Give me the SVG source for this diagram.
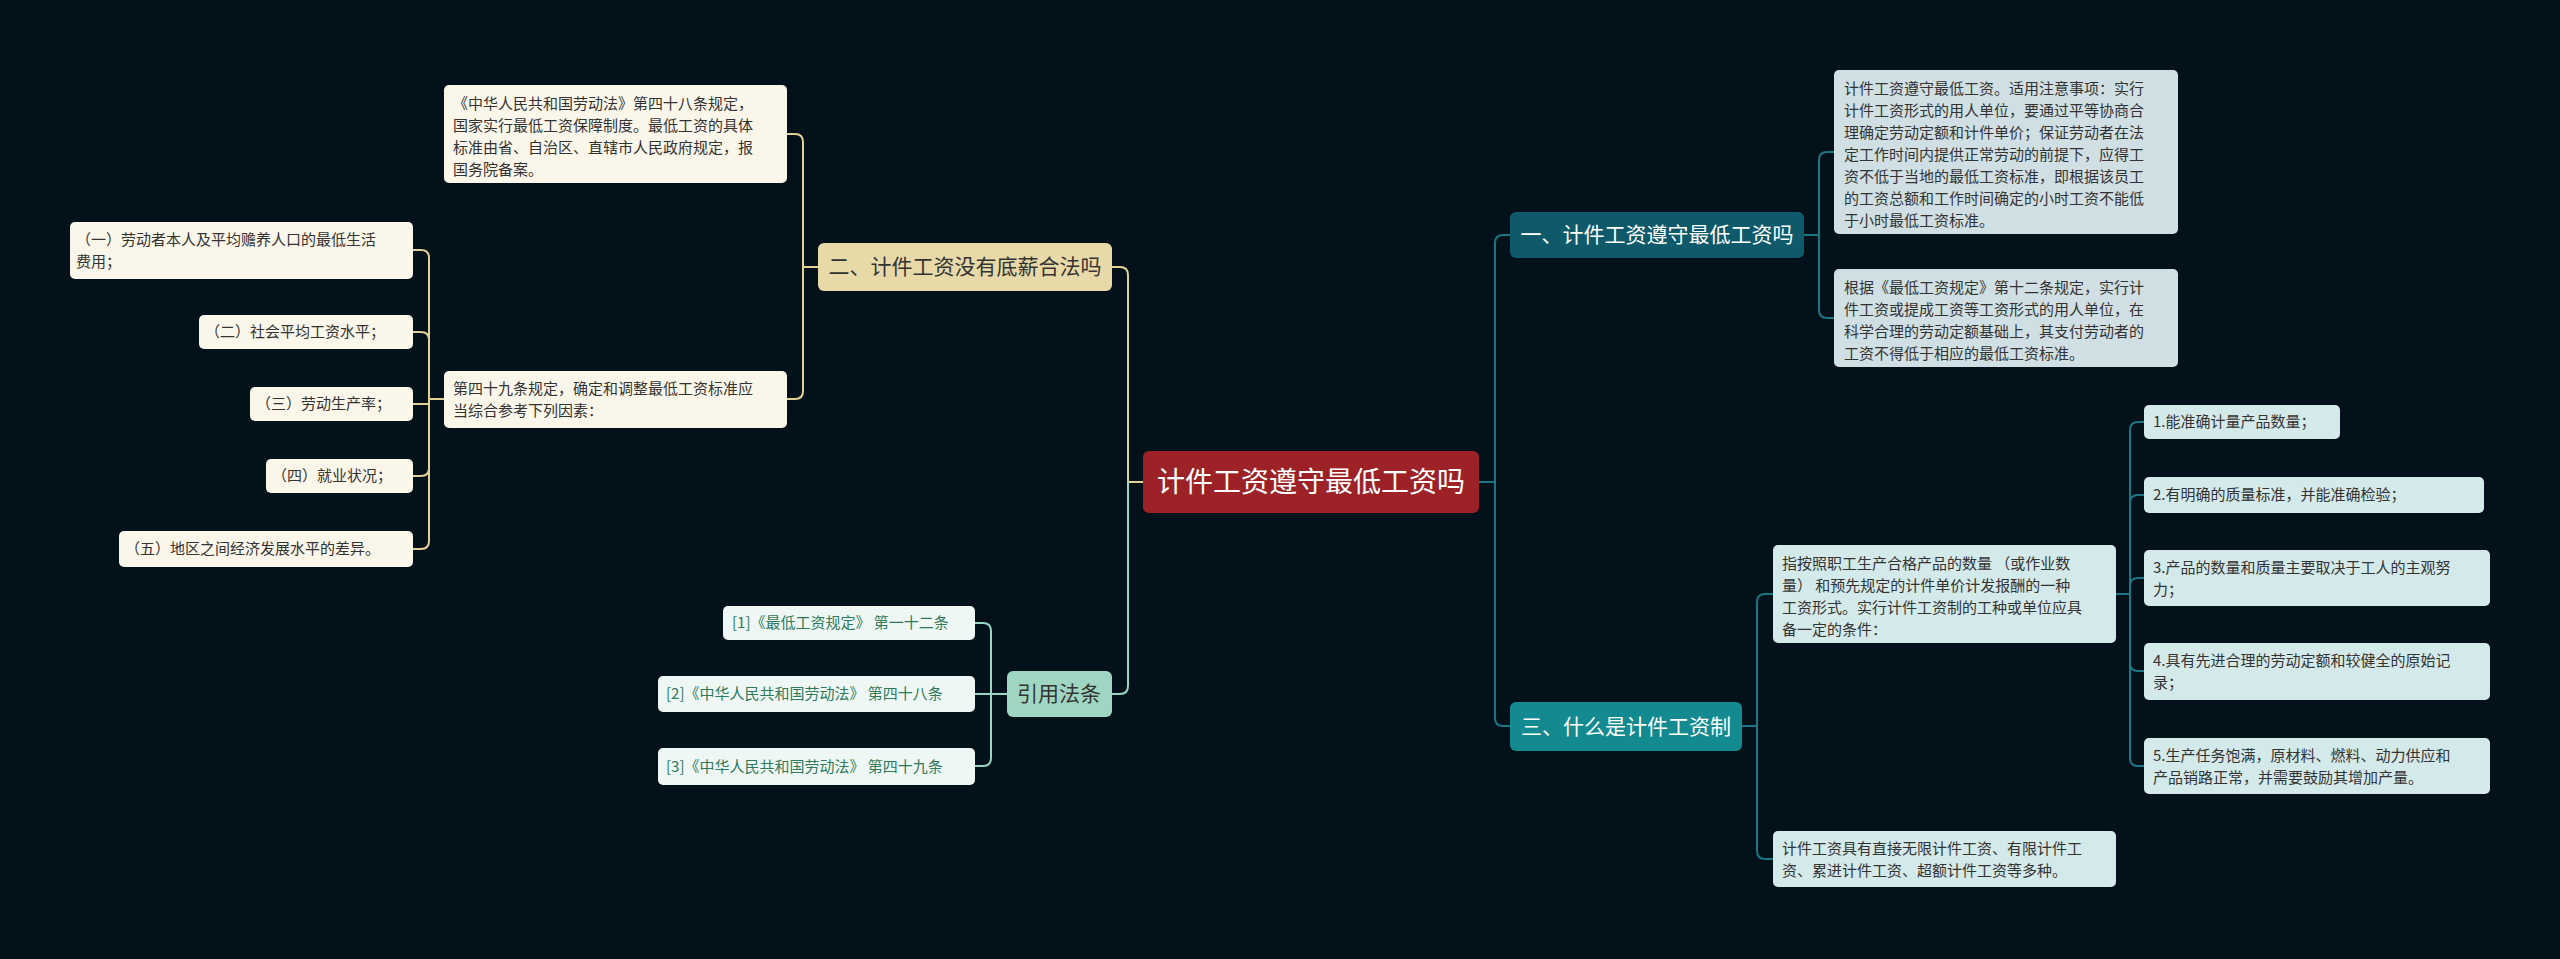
<svg xmlns="http://www.w3.org/2000/svg" width="2560" height="959" viewBox="0 0 2560 959">
<style>
text{font-family:"Noto Sans CJK SC","Noto Sans",sans-serif;}
.t{font-size:15px;fill:#333;}
.g{font-size:15px;fill:#2f7a5c;}
.h{font-size:21px;text-anchor:middle;}
.c{fill:none;stroke-width:2;}
.r{stroke:#1b7683;}
.y{stroke:#e2d195;}
.m{stroke:#96d6c2;}
</style>
<rect width="2560" height="959" fill="#03111a"/>
<g id="connectors">
<path class="c r" d="M1479 482 H1495 V243 Q1495 235 1503 235 H1510"/>
<path class="c r" d="M1495 482 V718 Q1495 726 1503 726 H1510"/>
<path class="c r" d="M1804 235 H1819 V160 Q1819 152 1827 152 H1834"/>
<path class="c r" d="M1819 235 V310 Q1819 318 1827 318 H1834"/>
<path class="c r" d="M1742 726 H1757 V602 Q1757 594 1765 594 H1773"/>
<path class="c r" d="M1757 726 V851 Q1757 859 1765 859 H1773"/>
<path class="c r" d="M2116 594 H2130 V430 Q2130 422 2138 422 H2144"/>
<path class="c r" d="M2130 594 V503 Q2130 495 2138 495 H2144"/>
<path class="c r" d="M2130 594 V586 Q2130 578 2138 578 H2144"/>
<path class="c r" d="M2130 594 V663 Q2130 671 2138 671 H2144"/>
<path class="c r" d="M2130 594 V758 Q2130 766 2138 766 H2144"/>
<path class="c y" d="M1143 482 H1128 V275 Q1128 267 1120 267 H1112"/>
<path class="c m" d="M1128 482 V686 Q1128 694 1120 694 H1112"/>
<path class="c y" d="M818 267 H803 V142 Q803 134 795 134 H787"/>
<path class="c y" d="M803 267 V391 Q803 399 795 399 H787"/>
<path class="c y" d="M444 399 H429 V258 Q429 250 421 250 H413"/>
<path class="c y" d="M429 399 V340 Q429 332 421 332 H413"/>
<path class="c y" d="M429 399 V404 H413"/>
<path class="c y" d="M429 399 V468 Q429 476 421 476 H413"/>
<path class="c y" d="M429 399 V541 Q429 549 421 549 H413"/>
<path class="c m" d="M1007 694 H991 V631 Q991 623 983 623 H975"/>
<path class="c m" d="M991 694 H975"/>
<path class="c m" d="M991 694 V758 Q991 766 983 766 H975"/>
</g>
<g id="center"><rect x="1143" y="451" width="336" height="62" rx="6" fill="#9c2228"/><text x="1311" y="492" style="font-size:28px;fill:#fff;text-anchor:middle">计件工资遵守最低工资吗</text></g>
<g id="n1"><rect x="1510" y="212" width="294" height="46" rx="6" fill="#0e5a6b"/><text class="h" x="1657" y="242" fill="#fff">一、计件工资遵守最低工资吗</text></g>
<g id="n1a"><rect x="1834" y="70" width="344" height="164" rx="5" fill="#cfdfe3"/><text class="t" x="1844"><tspan x="1844" y="94">计件工资遵守最低工资。适用注意事项：实行</tspan><tspan x="1844" y="116">计件工资形式的用人单位，要通过平等协商合</tspan><tspan x="1844" y="138">理确定劳动定额和计件单价；保证劳动者在法</tspan><tspan x="1844" y="160">定工作时间内提供正常劳动的前提下，应得工</tspan><tspan x="1844" y="182">资不低于当地的最低工资标准，即根据该员工</tspan><tspan x="1844" y="204">的工资总额和工作时间确定的小时工资不能低</tspan><tspan x="1844" y="226">于小时最低工资标准。</tspan></text></g>
<g id="n1b"><rect x="1834" y="269" width="344" height="98" rx="5" fill="#cfdfe3"/><text class="t"><tspan x="1844" y="293">根据《最低工资规定》第十二条规定，实行计</tspan><tspan x="1844" y="315">件工资或提成工资等工资形式的用人单位，在</tspan><tspan x="1844" y="337">科学合理的劳动定额基础上，其支付劳动者的</tspan><tspan x="1844" y="359">工资不得低于相应的最低工资标准。</tspan></text></g>
<g id="n3"><rect x="1510" y="702" width="232" height="49" rx="6" fill="#138a8f"/><text class="h" x="1626" y="734" fill="#fff">三、什么是计件工资制</text></g>
<g id="n3a"><rect x="1773" y="545" width="343" height="98" rx="5" fill="#d3e9ea"/><text class="t"><tspan x="1782" y="569">指按照职工生产合格产品的数量 （或作业数</tspan><tspan x="1782" y="591">量） 和预先规定的计件单价计发报酬的一种</tspan><tspan x="1782" y="613">工资形式。实行计件工资制的工种或单位应具</tspan><tspan x="1782" y="635">备一定的条件：</tspan></text></g>
<g id="s1"><rect x="2144" y="405" width="196" height="34" rx="5" fill="#d3e9ea"/><text class="t" x="2153" y="427">1.能准确计量产品数量；</text></g>
<g id="s2"><rect x="2144" y="477" width="340" height="36" rx="5" fill="#d3e9ea"/><text class="t" x="2153" y="500">2.有明确的质量标准，并能准确检验；</text></g>
<g id="s3"><rect x="2144" y="550" width="346" height="56" rx="5" fill="#d3e9ea"/><text class="t"><tspan x="2153" y="573">3.产品的数量和质量主要取决于工人的主观努</tspan><tspan x="2153" y="595">力；</tspan></text></g>
<g id="s4"><rect x="2144" y="643" width="346" height="57" rx="5" fill="#d3e9ea"/><text class="t"><tspan x="2153" y="666">4.具有先进合理的劳动定额和较健全的原始记</tspan><tspan x="2153" y="688">录；</tspan></text></g>
<g id="s5"><rect x="2144" y="738" width="346" height="56" rx="5" fill="#d3e9ea"/><text class="t"><tspan x="2153" y="761">5.生产任务饱满，原材料、燃料、动力供应和</tspan><tspan x="2153" y="783">产品销路正常，并需要鼓励其增加产量。</tspan></text></g>
<g id="n3b"><rect x="1773" y="831" width="343" height="56" rx="5" fill="#d3e9ea"/><text class="t"><tspan x="1782" y="854">计件工资具有直接无限计件工资、有限计件工</tspan><tspan x="1782" y="876">资、累进计件工资、超额计件工资等多种。</tspan></text></g>
<g id="n2"><rect x="818" y="243" width="294" height="48" rx="6" fill="#e8d9a8"/><text class="h" x="965" y="274" fill="#333">二、计件工资没有底薪合法吗</text></g>
<g id="n2a"><rect x="444" y="85" width="343" height="98" rx="5" fill="#fbf6ea"/><text class="t"><tspan x="453" y="109">《中华人民共和国劳动法》第四十八条规定，</tspan><tspan x="453" y="131">国家实行最低工资保障制度。最低工资的具体</tspan><tspan x="453" y="153">标准由省、自治区、直辖市人民政府规定，报</tspan><tspan x="453" y="175">国务院备案。</tspan></text></g>
<g id="n2b"><rect x="444" y="371" width="343" height="57" rx="5" fill="#fbf6ea"/><text class="t"><tspan x="453" y="394">第四十九条规定，确定和调整最低工资标准应</tspan><tspan x="453" y="416">当综合参考下列因素：</tspan></text></g>
<g id="f1"><rect x="70" y="222" width="343" height="57" rx="5" fill="#fbf6ea"/><text class="t"><tspan x="76" y="245">（一）劳动者本人及平均赡养人口的最低生活</tspan><tspan x="76" y="267">费用；</tspan></text></g>
<g id="f2"><rect x="199" y="315" width="214" height="34" rx="5" fill="#fbf6ea"/><text class="t" x="205" y="337">（二）社会平均工资水平；</text></g>
<g id="f3"><rect x="250" y="387" width="163" height="34" rx="5" fill="#fbf6ea"/><text class="t" x="256" y="409">（三）劳动生产率；</text></g>
<g id="f4"><rect x="266" y="459" width="147" height="34" rx="5" fill="#fbf6ea"/><text class="t" x="272" y="481">（四）就业状况；</text></g>
<g id="f5"><rect x="119" y="531" width="294" height="36" rx="5" fill="#fbf6ea"/><text class="t" x="125" y="554">（五）地区之间经济发展水平的差异。</text></g>
<g id="n4"><rect x="1007" y="671" width="105" height="46" rx="6" fill="#9fd6c2"/><text class="h" x="1059" y="701" fill="#333">引用法条</text></g>
<g id="r1"><rect x="723" y="606" width="252" height="34" rx="5" fill="#eef7f3"/><text class="g" x="732" y="628">[1]《最低工资规定》 第一十二条</text></g>
<g id="r2"><rect x="658" y="676" width="317" height="36" rx="5" fill="#eef7f3"/><text class="g" x="666" y="699">[2]《中华人民共和国劳动法》 第四十八条</text></g>
<g id="r3"><rect x="658" y="748" width="317" height="37" rx="5" fill="#eef7f3"/><text class="g" x="666" y="772">[3]《中华人民共和国劳动法》 第四十九条</text></g>
</svg>
